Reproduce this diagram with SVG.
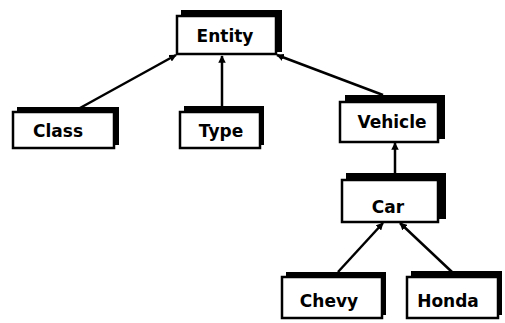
<svg xmlns="http://www.w3.org/2000/svg" width="505" height="323" viewBox="0 0 505 323">
<style>
.sh{fill:#000}
.bx{fill:#fff;stroke:#000;stroke-width:2.5}
.t{font-family:"DejaVu Sans",sans-serif;font-weight:bold;font-size:17px;text-anchor:middle;fill:#000}
.c{stroke:#000;stroke-width:2.5;fill:none;marker-end:url(#ah)}
</style>
<defs>
<marker id="ah" viewBox="0 0 10 10" refX="9" refY="5" markerWidth="3" markerHeight="3" orient="auto">
<path d="M0,0 L10,5 L0,10 z" fill="#000"/>
</marker>
</defs>
<g id="connectors">
<line class="c" x1="80" y1="108" x2="176" y2="55"/>
<line class="c" x1="222" y1="112" x2="222" y2="56"/>
<line class="c" x1="383" y1="95" x2="277" y2="55"/>
<line class="c" x1="395" y1="175" x2="395" y2="143"/>
<line class="c" x1="338" y1="272" x2="383" y2="223"/>
<line class="c" x1="452" y1="272" x2="400" y2="223"/>
</g>
<g id="entity">
<rect class="sh" x="181" y="10" width="101" height="42"/>
<rect class="bx" x="177" y="16" width="99" height="38"/>
<text class="t" x="225" y="42">Entity</text>
</g>
<g id="class">
<rect class="sh" x="17" y="107" width="102" height="38"/>
<rect class="bx" x="13" y="112" width="101" height="36"/>
<text class="t" x="58" y="137">Class</text>
</g>
<g id="type">
<rect class="sh" x="184" y="106" width="80" height="39"/>
<rect class="bx" x="180" y="112" width="80" height="36"/>
<text class="t" x="221" y="137">Type</text>
</g>
<g id="vehicle">
<rect class="sh" x="345" y="95" width="100" height="44"/>
<rect class="bx" x="340" y="102" width="98" height="40"/>
<text class="t" x="392" y="128">Vehicle</text>
</g>
<g id="car">
<rect class="sh" x="346" y="173" width="100" height="46"/>
<rect class="bx" x="342" y="180" width="96" height="42"/>
<text class="t" x="388" y="213">Car</text>
</g>
<g id="chevy">
<rect class="sh" x="286" y="272" width="100" height="43"/>
<rect class="bx" x="282" y="277" width="100" height="41"/>
<text class="t" x="329" y="307">Chevy</text>
</g>
<g id="honda">
<rect class="sh" x="411" y="271" width="91" height="44"/>
<rect class="bx" x="407" y="277" width="91" height="41"/>
<text class="t" x="448" y="307">Honda</text>
</g>
</svg>
